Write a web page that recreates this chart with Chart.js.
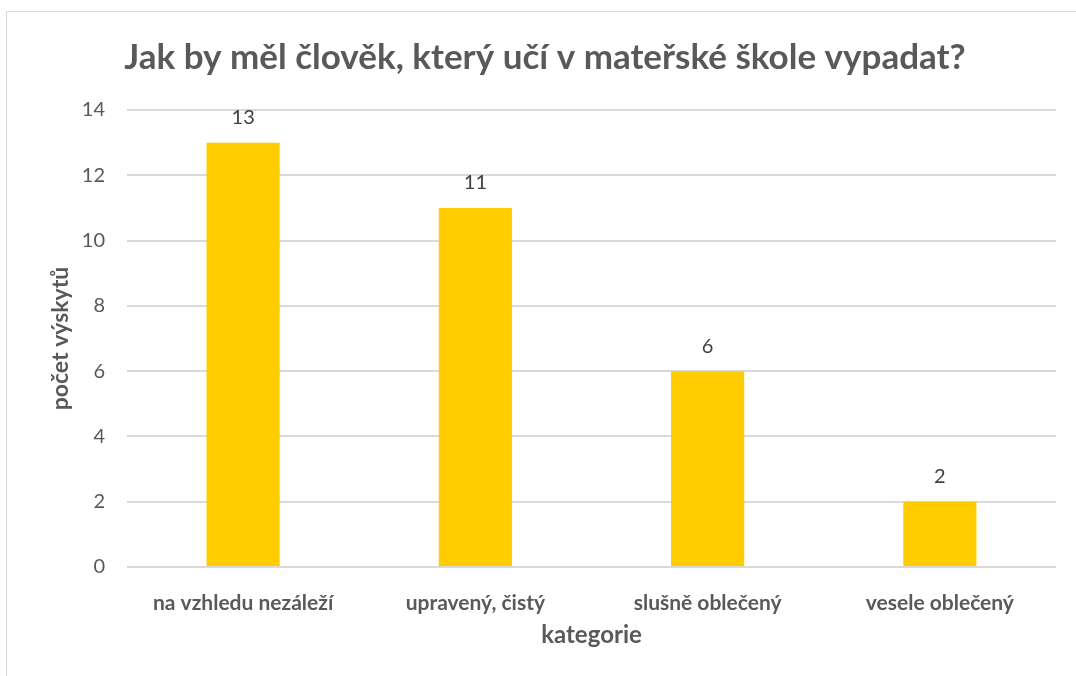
<!DOCTYPE html>
<html>
<head>
<meta charset="utf-8">
<script src="https://cdn.jsdelivr.net/npm/chart.js@4/dist/chart.umd.min.js"></script>
<style>
    body { margin: 0; background: #fff; overflow: hidden; }
    #frame { position: absolute; left: 6px; top: 11px; width: 1100px; height: 700px; border: 1px solid #d9d9d9; }
    #wrap { position: absolute; left: 0; top: 0; width: 1076px; height: 676px; }
</style>
</head>
<body>
<div id="frame"></div>
<div id="wrap"><canvas id="chart"></canvas></div>
<script>
const categories = ["na vzhledu nezáleží", "upravený, čistý", "slušně oblečený", "vesele oblečený"];
const counts = [13, 11, 6, 2];
const yTicks = [0, 2, 4, 6, 8, 10, 12, 14];

const font_color = "#595959";
const bar_color = "#FFCC00";
const grid_color = "#d9d9d9";
const fontFamily = "Lato, 'Open Sans', sans-serif";

// popisky nad sloupci
const valueLabels = {
    id: "valueLabels",
    afterDatasetsDraw(chart) {
        const ctx = chart.ctx;
        const meta = chart.getDatasetMeta(0);
        ctx.save();
        ctx.fillStyle = "#404040";
        ctx.font = "20px " + fontFamily;
        ctx.textAlign = "center";
        ctx.textBaseline = "middle";
        meta.data.forEach((bar, i) => {
            ctx.fillText(String(counts[i]), bar.x, bar.y - 25);
        });
        ctx.restore();
    }
};

const ctx = document.getElementById("chart");
new Chart(ctx, {
    type: "bar",
    data: {
        labels: categories,
        datasets: [{
            data: counts,
            backgroundColor: bar_color,
            categoryPercentage: 1,
            barPercentage: 0.315
        }]
    },
    options: {
        responsive: true,
        maintainAspectRatio: false,
        animation: false,
        layout: { padding: { left: 34, right: 20, top: 37, bottom: 26 } },
        plugins: {
            legend: { display: false },
            tooltip: { enabled: false },
            title: {
                display: true,
                text: "Jak by měl člověk, který učí v mateřské škole vypadat?",
                color: font_color,
                font: { family: fontFamily, size: 35, weight: "bold" },
                padding: { top: 0, bottom: 31 }
            }
        },
        scales: {
            x: {
                afterFit(scale) {
                    scale.height = 83;
                },
                grid: { display: false },
                border: { display: false },
                ticks: {
                    color: font_color,
                    font: { family: fontFamily, size: 21, weight: "bold" },
                    padding: 16
                },
                title: {
                    display: true,
                    text: "kategorie",
                    color: font_color,
                    font: { family: fontFamily, size: 24, weight: "bold" },
                    padding: { top: 0, bottom: 0 }
                }
            },
            y: {
                min: 0,
                max: 14,
                afterBuildTicks(scale) {
                    scale.ticks = yTicks.map(v => ({ value: v }));
                },
                afterFit(scale) {
                    scale.width = 93;
                },
                grid: { color: grid_color, lineWidth: 2, drawTicks: false },
                border: { display: false },
                ticks: {
                    color: font_color,
                    font: { family: fontFamily, size: 20 },
                    padding: 22
                },
                title: {
                    display: true,
                    text: "počet výskytů",
                    color: font_color,
                    font: { family: fontFamily, size: 23, weight: "bold" },
                    padding: { top: 13, bottom: 0 }
                }
            }
        }
    },
    plugins: [valueLabels]
});
</script>
</body>
</html>
